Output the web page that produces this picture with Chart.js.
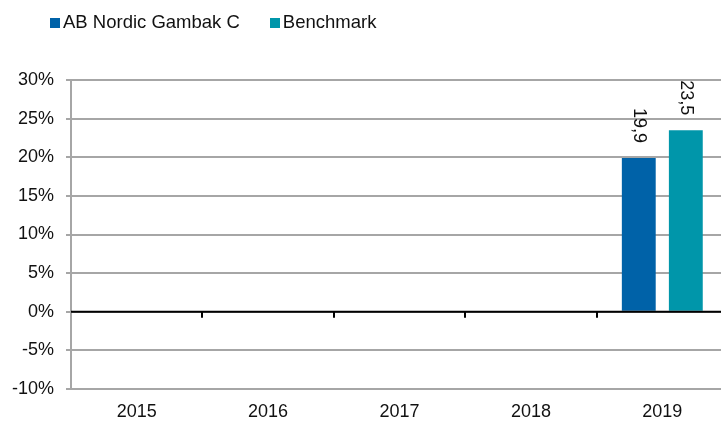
<!DOCTYPE html>
<html>
<head>
<meta charset="utf-8">
<script src="https://cdn.jsdelivr.net/npm/chart.js@4/dist/chart.umd.min.js"></script>
<style>
  body { margin: 0; width: 721px; height: 422px; overflow: hidden; background: #fff; font-family: "Liberation Sans", Arial, sans-serif; }
  #wrap { position: absolute; left: 0; top: 0; width: 728px; height: 422px; }
  #legend { position: absolute; left: 50px; top: 11px; font-size: 18.5px; color: #111; white-space: nowrap; }
  #legend span.item { margin-right: 30px; }
  #legend span.box { display: inline-block; width: 10px; height: 10px; margin-right: 3px; }
</style>
</head>
<body>
<div id="wrap"><canvas id="myChart" width="728" height="422"></canvas></div>
<div id="legend"></div>
<script>
let years = ["2015", "2016", "2017", "2018", "2019"]
let fund = [null, null, null, null, 19.9]
let bench = [null, null, null, null, 23.5]
let names = ["AB Nordic Gambak C", "Benchmark"]
let colors = ["#0062A8", "#0096AA"]

// legend as html
let legend = document.getElementById("legend")
names.forEach((n, i) => {
    legend.innerHTML += `<span class="item"><span class="box" style="background:${colors[i]}"></span>${n}</span>`
})

let font = { family: "'Liberation Sans', Arial, sans-serif", size: 18 }

// zero line + category ticks, and rotated value labels
let extras = {
    id: "extras",
    afterDatasetsDraw(chart) {
        let c = chart.ctx
        let x = chart.scales.x
        let y = chart.scales.y
        let zero = y.getPixelForValue(0)
        c.save()
        c.strokeStyle = "#000"
        c.lineWidth = 2
        c.beginPath()
        c.moveTo(chart.chartArea.left, zero)
        c.lineTo(chart.chartArea.right, zero)
        for (let i = 1; i < years.length; i++) {
            let px = Math.round((x.getPixelForTick(i - 1) + x.getPixelForTick(i)) / 2)
            c.moveTo(px, zero)
            c.lineTo(px, zero + 6)
        }
        c.stroke()

        c.fillStyle = "#111"
        c.font = "18px 'Liberation Sans', Arial, sans-serif"
        c.textAlign = "right"
        c.textBaseline = "middle"
        chart.data.datasets.forEach((ds, di) => {
            chart.getDatasetMeta(di).data.forEach((bar, i) => {
                let v = ds.data[i]
                if (v == null) return
                c.save()
                c.translate(bar.x, bar.y - 15)
                c.rotate(Math.PI / 2)
                c.fillText(v.toFixed(1).replace(".", ","), 0, 0)
                c.restore()
            })
        })
        c.restore()
    }
}

let ctx = document.getElementById("myChart")
let myChart = new Chart(ctx, {
    type: "bar",
    data: {
        labels: years,
        datasets: [
            { label: names[0], data: fund, backgroundColor: colors[0] },
            { label: names[1], data: bench, backgroundColor: colors[1] }
        ]
    },
    options: {
        responsive: false,
        animation: false,
        layout: { padding: { top: 80, left: 0, right: 0, bottom: 0 } },
        datasets: { bar: { categoryPercentage: 0.716, barPercentage: 0.72 } },
        plugins: { legend: { display: false }, tooltip: { enabled: false } },
        scales: {
            x: {
                grid: { display: false },
                border: { display: false },
                ticks: { color: "#111", font: font, padding: 4, maxRotation: 0 },
                afterFit(s) { s.height = 33 }
            },
            y: {
                min: -10,
                max: 30,
                grid: { color: "#a6a6a6", lineWidth: 2, tickLength: 5 },
                border: { color: "#a6a6a6", width: 2 },
                ticks: { stepSize: 5, color: "#111", font: font, padding: 12, callback: (v) => v + "%" },
                afterFit(s) { s.width = 71 }
            }
        }
    },
    plugins: [extras]
})
</script>
</body>
</html>
